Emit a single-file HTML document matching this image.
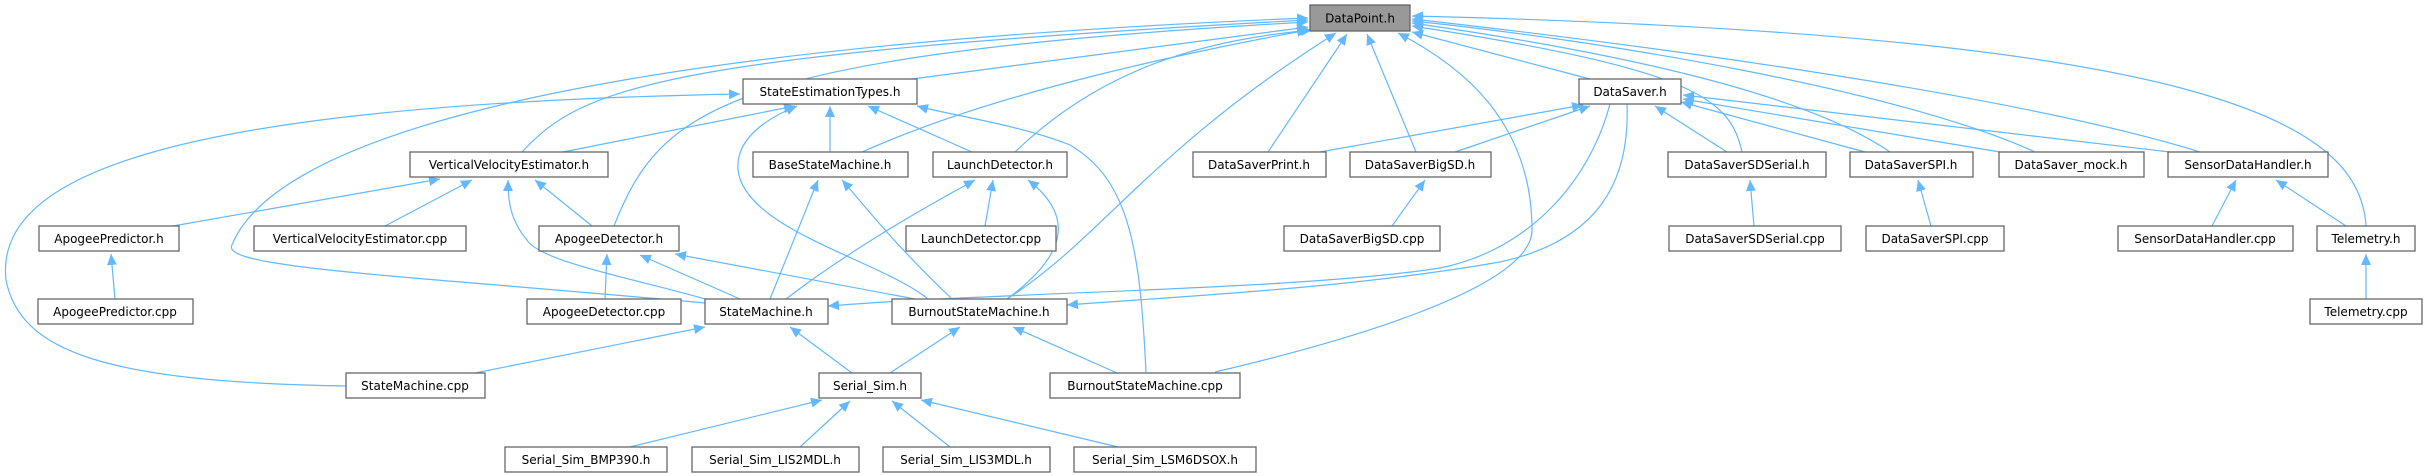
<!DOCTYPE html>
<html><head><meta charset="utf-8"><style>
html,body{margin:0;padding:0;background:#fff;}
svg{display:block;}
text{font-family:"DejaVu Sans","Liberation Sans",sans-serif;font-size:12px;fill:#000;}
.n{fill:#fff;stroke:#666;stroke-width:1.3;}
.e{fill:none;stroke:#63b8ff;stroke-width:1.2;}
</style></head><body>
<svg width="2424" height="476" viewBox="0 0 2424 476" xmlns="http://www.w3.org/2000/svg">
<defs>
<marker id="a" markerUnits="userSpaceOnUse" markerWidth="12" markerHeight="10" refX="11" refY="5" orient="auto">
<path d="M0,0 L11,5 L0,10 Z" fill="#63b8ff"/>
</marker>
</defs>
<g class="e" marker-end="url(#a)">
<!-- to DataPoint -->
<path d="M912 79 L1308 27"/>
<path d="M522 152 C580 90,650 55,1308 20"/>
<path d="M614 226 C660 110,720 55,1308 22"/>
<path d="M705 303 C400 275,220 268,232 245 C270 150,520 50,1308 18"/>
<path d="M862 152 C1000 90,1200 50,1308 30"/>
<path d="M1015 152 C1100 70,1200 40,1312 30"/>
<path d="M1007 299 C1100 240,1150 150,1336 33"/>
<path d="M1268 152 L1347 34"/>
<path d="M1416 152 L1367 34"/>
<path d="M1215 372 C1330 345,1532 290,1532 230 C1532 120,1460 65,1398 33"/>
<path d="M1590 79 L1412 32"/>
<path d="M1742 152 C1730 100,1700 70,1412 26"/>
<path d="M1890 152 C1800 90,1600 50,1412 23"/>
<path d="M2035 152 C1900 90,1600 40,1412 21"/>
<path d="M2200 152 C2000 90,1600 40,1412 19"/>
<path d="M2366 226 C2360 120,2200 35,1412 16"/>
<!-- to StateEstimationTypes -->
<path d="M346 386 C100 382,20 350,6 280 C-5 180,150 105,740 94"/>
<path d="M563 152 L795 106"/>
<path d="M830 152 L830 106"/>
<path d="M972 152 L868 106"/>
<path d="M928 299 C880 260,745 230,738 170 C735 135,775 115,797 106"/>
<path d="M1146 372 C1140 250,1130 180,1070 145 C1020 125,950 115,917 106"/>
<!-- to VVE -->
<path d="M173 226 L440 179"/>
<path d="M385 226 L472 180"/>
<path d="M592 226 L535 180"/>
<path d="M705 299 C640 280,540 262,527 240 C510 220,508 200,508 180"/>
<path d="M115 299 L111 254"/>
<path d="M605 299 L607 254"/>
<path d="M740 299 L640 255"/>
<path d="M915 299 L675 254"/>
<path d="M770 299 L818 180"/>
<path d="M952 299 C890 240,860 200,842 180"/>
<path d="M786 299 C850 250,920 210,975 180"/>
<path d="M985 226 L993 180"/>
<path d="M1007 299 C1060 260,1080 220,1028 180"/>
<path d="M475 373 L705 327"/>
<path d="M852 373 L790 327"/>
<path d="M1610 104 C1590 180,1530 250,1440 268 C1300 290,1000 292,828 306"/>
<path d="M1627 104 C1630 180,1600 240,1500 262 C1350 288,1200 295,1067 305"/>
<path d="M890 373 L960 327"/>
<path d="M1117 373 L1013 327"/>
<path d="M630 447 L822 400"/>
<path d="M800 447 L850 401"/>
<path d="M950 447 L892 401"/>
<path d="M1118 447 L921 400"/>
<!-- to DataSaver -->
<path d="M1320 152 L1583 105"/>
<path d="M1455 152 L1590 106"/>
<path d="M1727 152 L1655 106"/>
<path d="M1865 152 L1681 102"/>
<path d="M2000 152 L1683 99"/>
<path d="M2170 152 L1683 95"/>
<path d="M1392 226 L1425 180"/>
<path d="M1754 226 L1750 180"/>
<path d="M1931 226 L1918 180"/>
<path d="M2212 226 L2236 180"/>
<path d="M2346 226 L2276 180"/>
<path d="M2366 299 L2366 254"/>
</g>
<g>
<rect x="1310" y="5" width="100" height="26" fill="#999" stroke="#666" stroke-width="1.3"/><text x="1360" y="22.5" text-anchor="middle">DataPoint.h</text>
<rect class="n" x="743" y="79" width="174" height="25"/><text x="830" y="96" text-anchor="middle">StateEstimationTypes.h</text>
<rect class="n" x="1579" y="79" width="102" height="25"/><text x="1630" y="96" text-anchor="middle">DataSaver.h</text>
<rect class="n" x="410" y="152" width="198" height="25"/><text x="509" y="169" text-anchor="middle">VerticalVelocityEstimator.h</text>
<rect class="n" x="753" y="152" width="155" height="25"/><text x="830" y="169" text-anchor="middle">BaseStateMachine.h</text>
<rect class="n" x="933" y="152" width="134" height="25"/><text x="1000" y="169" text-anchor="middle">LaunchDetector.h</text>
<rect class="n" x="1193" y="152" width="133" height="25"/><text x="1259" y="169" text-anchor="middle">DataSaverPrint.h</text>
<rect class="n" x="1350" y="152" width="141" height="25"/><text x="1420" y="169" text-anchor="middle">DataSaverBigSD.h</text>
<rect class="n" x="1668" y="152" width="158" height="25"/><text x="1747" y="169" text-anchor="middle">DataSaverSDSerial.h</text>
<rect class="n" x="1850" y="152" width="123" height="25"/><text x="1911" y="169" text-anchor="middle">DataSaverSPI.h</text>
<rect class="n" x="1999" y="152" width="145" height="25"/><text x="2071" y="169" text-anchor="middle">DataSaver_mock.h</text>
<rect class="n" x="2168" y="152" width="160" height="25"/><text x="2248" y="169" text-anchor="middle">SensorDataHandler.h</text>
<rect class="n" x="39" y="226" width="140" height="25"/><text x="109" y="243" text-anchor="middle">ApogeePredictor.h</text>
<rect class="n" x="254" y="226" width="212" height="25"/><text x="360" y="243" text-anchor="middle">VerticalVelocityEstimator.cpp</text>
<rect class="n" x="539" y="226" width="140" height="25"/><text x="609" y="243" text-anchor="middle">ApogeeDetector.h</text>
<rect class="n" x="906" y="226" width="150" height="25"/><text x="981" y="243" text-anchor="middle">LaunchDetector.cpp</text>
<rect class="n" x="1284" y="226" width="156" height="25"/><text x="1362" y="243" text-anchor="middle">DataSaverBigSD.cpp</text>
<rect class="n" x="1669" y="226" width="172" height="25"/><text x="1755" y="243" text-anchor="middle">DataSaverSDSerial.cpp</text>
<rect class="n" x="1866" y="226" width="138" height="25"/><text x="1935" y="243" text-anchor="middle">DataSaverSPI.cpp</text>
<rect class="n" x="2118" y="226" width="175" height="25"/><text x="2205" y="243" text-anchor="middle">SensorDataHandler.cpp</text>
<rect class="n" x="2317" y="226" width="98" height="25"/><text x="2366" y="243" text-anchor="middle">Telemetry.h</text>
<rect class="n" x="38" y="299" width="155" height="25"/><text x="115" y="316" text-anchor="middle">ApogeePredictor.cpp</text>
<rect class="n" x="527" y="299" width="154" height="25"/><text x="604" y="316" text-anchor="middle">ApogeeDetector.cpp</text>
<rect class="n" x="705" y="299" width="123" height="25"/><text x="766" y="316" text-anchor="middle">StateMachine.h</text>
<rect class="n" x="892" y="299" width="175" height="25"/><text x="979" y="316" text-anchor="middle">BurnoutStateMachine.h</text>
<rect class="n" x="2310" y="299" width="112" height="25"/><text x="2366" y="316" text-anchor="middle">Telemetry.cpp</text>
<rect class="n" x="346" y="373" width="139" height="25"/><text x="415" y="390" text-anchor="middle">StateMachine.cpp</text>
<rect class="n" x="819" y="373" width="102" height="25"/><text x="870" y="390" text-anchor="middle">Serial_Sim.h</text>
<rect class="n" x="1050" y="373" width="190" height="25"/><text x="1145" y="390" text-anchor="middle">BurnoutStateMachine.cpp</text>
<rect class="n" x="505" y="447" width="162" height="25"/><text x="586" y="464" text-anchor="middle">Serial_Sim_BMP390.h</text>
<rect class="n" x="692" y="447" width="167" height="25"/><text x="775" y="464" text-anchor="middle">Serial_Sim_LIS2MDL.h</text>
<rect class="n" x="883" y="447" width="167" height="25"/><text x="966" y="464" text-anchor="middle">Serial_Sim_LIS3MDL.h</text>
<rect class="n" x="1074" y="447" width="182" height="25"/><text x="1165" y="464" text-anchor="middle">Serial_Sim_LSM6DSOX.h</text>
</g>
</svg>
</body></html>
